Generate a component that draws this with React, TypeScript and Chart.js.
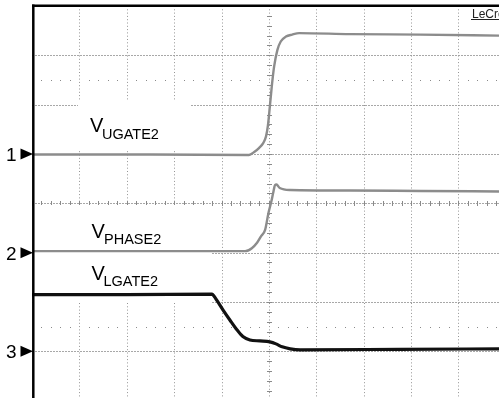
import React, { useEffect, useRef } from 'react';
import { Chart, registerables } from 'chart.js';

Chart.register(...registerables);

// Screen geometry in oscilloscope divisions
const X_MIN = 0;
const X_MAX = 9.857;
const Y_MIN = 0.053;
const Y_MAX = 8;
const V_GRID = [1, 2, 3, 4, 6, 7, 8, 9];
const H_GRID = [1, 2, 3, 5, 6, 7];
const CENTER_X = 5;
const CENTER_Y = 4;
const SPARSE_ROWS = [6.5, 1.5];

// Trace 1: V_UGATE2
const T1_X = [0, 2.5, 4.58, 4.69, 4.79, 4.88, 4.94, 4.98, 5.02, 5.06, 5.11, 5.18, 5.25, 5.36, 5.49, 5.64, 6.71, 8.19, 9.86];
const T1_Y = [4.99, 4.99, 4.98, 5.04, 5.12, 5.22, 5.36, 5.58, 5.96, 6.36, 6.77, 7.11, 7.28, 7.38, 7.42, 7.45, 7.43, 7.42, 7.4];

// Trace 2: V_PHASE2
const T2_X = [0, 4.5, 4.64, 4.75, 4.84, 4.92, 4.99, 5.06, 5.09, 5.13, 5.16, 5.23, 5.45, 6.71, 8.19, 9.86];
const T2_Y = [3.03, 3.03, 3.09, 3.2, 3.34, 3.46, 3.8, 4.07, 4.21, 4.37, 4.38, 4.31, 4.27, 4.26, 4.25, 4.24];

// Trace 3: V_LGATE2
const T3_X = [0, 2.0, 3.8, 3.84, 3.91, 4.03, 4.18, 4.33, 4.45, 4.6, 4.81, 5.02, 5.15, 5.28, 5.45, 5.66, 7.77, 9.86];
const T3_Y = [2.15, 2.15, 2.16, 2.12, 2.02, 1.84, 1.63, 1.43, 1.3, 1.23, 1.21, 1.19, 1.15, 1.09, 1.05, 1.03, 1.04, 1.05];

// Channel markers
const MARKER_LABELS = ['1', '2', '3'];
const MARKER_LEVELS = [5, 3, 1];

// Trace names (V + subscript)
const TRACE_SUBS = ['UGATE2', 'PHASE2', 'LGATE2'];
const BRAND = 'LeCroy';

const FONT = '"Liberation Sans", Arial, Helvetica, sans-serif';

const toPoints = (xs: number[], ys: number[]) => xs.map((x, i) => ({ x, y: ys[i] }));

const scopePlugin = {
  id: 'scope',
  beforeDatasetsDraw(chart: any) {
    const { ctx, chartArea, scales } = chart;
    const xs = scales.x;
    const ys = scales.y;
    const top = chartArea.top;
    const bottom = chartArea.bottom;
    const left = chartArea.left;
    const right = chartArea.right;
    ctx.save();
    // horizontal grid lines
    ctx.strokeStyle = '#a8a8a8';
    ctx.lineWidth = 1;
    ctx.setLineDash([2, 1]);
    H_GRID.forEach((v) => {
      const y = Math.round(ys.getPixelForValue(v)) + 0.5;
      ctx.beginPath();
      ctx.moveTo(left, y);
      ctx.lineTo(right, y);
      ctx.stroke();
    });
    // vertical dotted grid lines
    ctx.strokeStyle = '#949494';
    ctx.setLineDash([1, 2.3]);
    V_GRID.forEach((v) => {
      const x = Math.round(xs.getPixelForValue(v)) + 0.5;
      ctx.beginPath();
      ctx.moveTo(x, top);
      ctx.lineTo(x, bottom);
      ctx.stroke();
    });
    // center axes with minor ticks
    const cx = Math.round(xs.getPixelForValue(CENTER_X)) + 0.5;
    const cy = Math.round(ys.getPixelForValue(CENTER_Y)) + 0.5;
    ctx.beginPath();
    ctx.moveTo(cx, top);
    ctx.lineTo(cx, bottom);
    ctx.stroke();
    ctx.strokeStyle = '#a8a8a8';
    ctx.setLineDash([2, 1]);
    ctx.beginPath();
    ctx.moveTo(left, cy);
    ctx.lineTo(right, cy);
    ctx.stroke();
    ctx.setLineDash([]);
    ctx.strokeStyle = '#8a8a8a';
    for (let v = Y_MIN; v <= Y_MAX; v += 0.2) {
      const yy = Math.round(ys.getPixelForValue(Math.round(v * 5) / 5)) + 0.5;
      ctx.beginPath();
      ctx.moveTo(cx - 2.5, yy);
      ctx.lineTo(cx + 2.5, yy);
      ctx.stroke();
    }
    for (let v = 0; v <= X_MAX; v += 0.2) {
      const xx = Math.round(xs.getPixelForValue(Math.round(v * 5) / 5)) + 0.5;
      ctx.beginPath();
      ctx.moveTo(xx, cy - 2.5);
      ctx.lineTo(xx, cy + 2.5);
      ctx.stroke();
    }
    // sparse dotted rows
    ctx.fillStyle = '#8a8a8a';
    SPARSE_ROWS.forEach((r) => {
      const y = Math.round(ys.getPixelForValue(r));
      for (let k = 1; k < X_MAX * 5; k++) {
        if (k % 5 === 0) continue;
        const x = Math.round(xs.getPixelForValue(k / 5));
        ctx.fillRect(x, y, 1, 1);
      }
    });
    // label backgrounds
    ctx.fillStyle = '#ffffff';
    ctx.fillRect(78, 100, 112, 50);
    ctx.fillRect(35, 205, 177, 98);
    ctx.restore();
  },
  afterDatasetsDraw(chart: any) {
    const { ctx, chartArea, scales } = chart;
    const ys = scales.y;
    ctx.save();
    // borders
    ctx.strokeStyle = '#000';
    ctx.lineWidth = 2.5;
    ctx.beginPath();
    ctx.moveTo(32, 5.75);
    ctx.lineTo(chartArea.right, 5.75);
    ctx.stroke();
    ctx.beginPath();
    ctx.moveTo(33.3, 4.5);
    ctx.lineTo(33.3, chartArea.bottom);
    ctx.stroke();
    // channel markers
    ctx.fillStyle = '#000';
    ctx.textBaseline = 'alphabetic';
    ctx.font = `19px ${FONT}`;
    MARKER_LABELS.forEach((lab, i) => {
      const y = ys.getPixelForValue(MARKER_LEVELS[i]);
      ctx.fillText(lab, 6, y + 7);
      ctx.beginPath();
      ctx.moveTo(20.5, y - 5.5);
      ctx.lineTo(20.5, y + 5.5);
      ctx.lineTo(33, y);
      ctx.closePath();
      ctx.fill();
    });
    // trace names
    const pos = [
      [90, 132, 102, 138.5],
      [91.5, 237.5, 104, 243.5],
      [91.5, 280, 103.5, 286],
    ];
    TRACE_SUBS.forEach((s, i) => {
      const [vx, vy, sx, sy] = pos[i];
      ctx.font = `20px ${FONT}`;
      ctx.fillText('V', vx, vy);
      ctx.font = `14.5px ${FONT}`;
      ctx.fillText(s, sx, sy);
    });
    // brand
    ctx.font = `12px ${FONT}`;
    ctx.fillStyle = '#222';
    ctx.fillText(BRAND, 472, 18);
    ctx.fillRect(471, 19, 30, 1);
    ctx.restore();
  },
};

export default function App() {
  const ref = useRef<HTMLCanvasElement | null>(null);
  useEffect(() => {
    if (!ref.current) return;
    const chart = new Chart(ref.current, {
      type: 'line',
      data: {
        datasets: [
          {
            label: 'V_UGATE2',
            data: toPoints(T1_X, T1_Y),
            borderColor: '#8c8c8c',
            borderWidth: 2.4,
            pointRadius: 0,
            cubicInterpolationMode: 'monotone',
          },
          {
            label: 'V_PHASE2',
            data: toPoints(T2_X, T2_Y),
            borderColor: '#8c8c8c',
            borderWidth: 2.4,
            pointRadius: 0,
            cubicInterpolationMode: 'monotone',
          },
          {
            label: 'V_LGATE2',
            data: toPoints(T3_X, T3_Y),
            borderColor: '#111111',
            borderWidth: 3.2,
            pointRadius: 0,
            cubicInterpolationMode: 'monotone',
          },
        ],
      },
      options: {
        responsive: false,
        animation: false,
        maintainAspectRatio: false,
        layout: { padding: { left: 32, top: 6, right: 0, bottom: 0 } },
        plugins: { legend: { display: false }, tooltip: { enabled: false } },
        events: [],
        scales: {
          x: { type: 'linear', min: X_MIN, max: X_MAX, display: false },
          y: { type: 'linear', min: Y_MIN, max: Y_MAX, display: false },
        },
      },
      plugins: [scopePlugin],
    } as any);
    return () => chart.destroy();
  }, []);
  return (
    <div style={{ position: 'absolute', left: 0, top: 0, width: 499, height: 398, background: '#fff' }}>
      <canvas ref={ref} width={499} height={398} style={{ display: 'block' }} />
    </div>
  );
}
